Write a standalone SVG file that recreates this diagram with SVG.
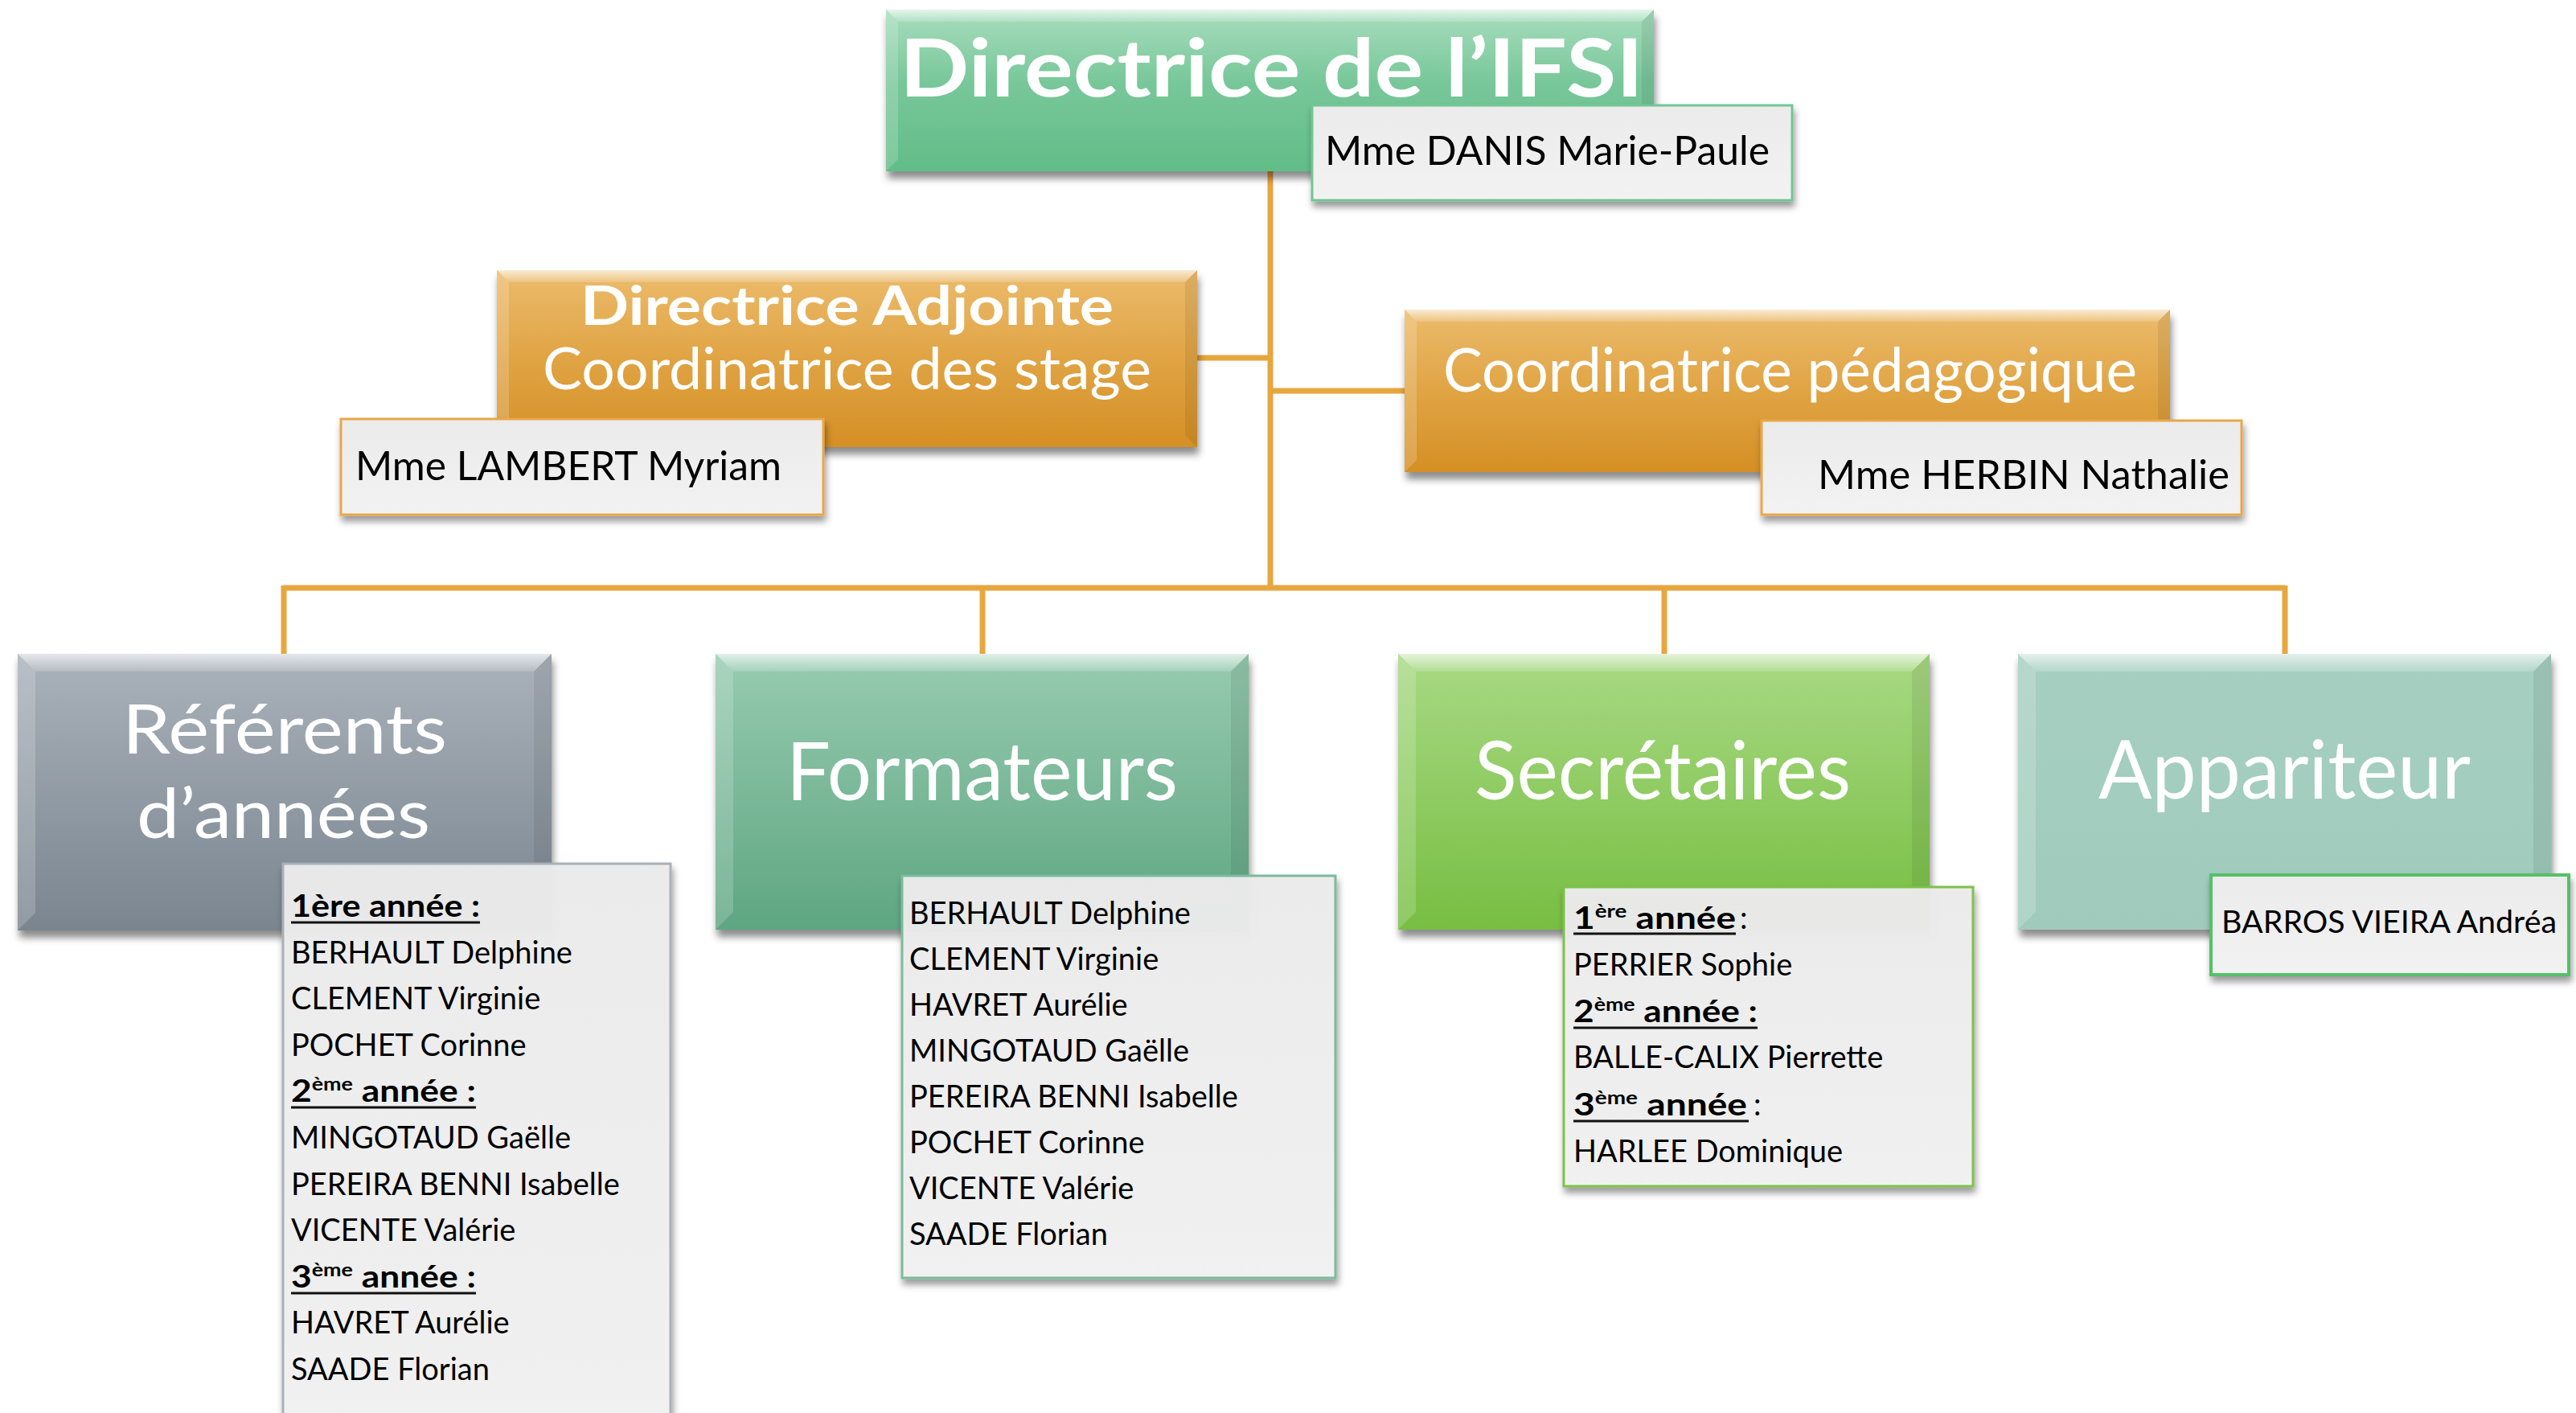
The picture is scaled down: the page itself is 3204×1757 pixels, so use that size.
<svg xmlns="http://www.w3.org/2000/svg" width="3204" height="1757" viewBox="0 0 3204 1757">
<defs>
<linearGradient id="gGreen" x1="0" y1="0" x2="0" y2="1"><stop offset="0" stop-color="#a8ddbd"/><stop offset="0.45" stop-color="#78c79a"/><stop offset="1" stop-color="#62bd88"/></linearGradient>
<linearGradient id="gOrange" x1="0" y1="0" x2="0" y2="1"><stop offset="0" stop-color="#ecbb6c"/><stop offset="0.5" stop-color="#e0a444"/><stop offset="1" stop-color="#d58f25"/></linearGradient>
<linearGradient id="gGray" x1="0" y1="0" x2="0" y2="1"><stop offset="0" stop-color="#aab2ba"/><stop offset="1" stop-color="#7a8590"/></linearGradient>
<linearGradient id="gTeal" x1="0" y1="0" x2="0" y2="1"><stop offset="0" stop-color="#97cbb0"/><stop offset="1" stop-color="#5ea682"/></linearGradient>
<linearGradient id="gLime" x1="0" y1="0" x2="0" y2="1"><stop offset="0" stop-color="#a8d984"/><stop offset="1" stop-color="#77be42"/></linearGradient>
<linearGradient id="gMint" x1="0" y1="0" x2="0" y2="1"><stop offset="0" stop-color="#a6cfc1"/><stop offset="1" stop-color="#a0cbbc"/></linearGradient>
<linearGradient id="gSub" x1="0" y1="0" x2="0" y2="1"><stop offset="0" stop-color="#ebebeb"/><stop offset="1" stop-color="#f2f2f2"/></linearGradient>
<linearGradient id="gHi" x1="0" y1="0" x2="0" y2="1"><stop offset="0" stop-color="#ffffff" stop-opacity="0.7"/><stop offset="1" stop-color="#ffffff" stop-opacity="0.15"/></linearGradient>
<filter id="sh" x="-5%" y="-5%" width="112%" height="125%"><feDropShadow dx="2" dy="9" stdDeviation="5" flood-color="#000" flood-opacity="0.45"/></filter>
<filter id="shs" x="-5%" y="-5%" width="112%" height="130%"><feDropShadow dx="2" dy="7" stdDeviation="4" flood-color="#000" flood-opacity="0.4"/></filter>
</defs>
<style>
.t{font-family:Lato,"Open Sans","Liberation Sans",sans-serif;}
.w{fill:#ffffff;}
.b{fill:#000000;}
.bold{font-weight:bold;}
.n{font-size:38px;}
.h{font-size:38px;font-weight:bold;}
.sup{font-size:23px;}
.conn{stroke:#e8a63f;stroke-width:7;fill:none;}
.hi{fill:url(#gHi);}
.lt{fill:#ffffff;fill-opacity:0.18;}
.dk{fill:#000000;fill-opacity:0.07;}
.ul{stroke:#111;stroke-width:3;}
</style>

<g id="connectors">
<path class="conn" d="M1580 150 V731"/>
<path class="conn" d="M1480 445 H1580"/>
<path class="conn" d="M1580 486 H1760"/>
<path class="conn" d="M353 731 H2842"/>
<path class="conn" d="M353 728 V830"/>
<path class="conn" d="M1222 731 V830"/>
<path class="conn" d="M2070 731 V830"/>
<path class="conn" d="M2842 728 V830"/>
</g>

<g id="node-directrice">
<rect x="1102" y="12" width="955" height="201" fill="url(#gGreen)" filter="url(#sh)"/>
<polygon class="hi" points="1102,12 2057,12 2042,27 1117,27"/>
<polygon class="lt" points="1102,12 1117,27 1117,198 1102,213"/>
<polygon class="dk" points="2057,12 2057,213 2042,198 2042,27"/>
<text class="t w bold" x="1119" y="120" font-size="100" textLength="925" lengthAdjust="spacingAndGlyphs">Directrice de l’IFSI</text>
<rect x="1632" y="131" width="597" height="118" fill="url(#gSub)" stroke="#72c696" stroke-width="3" filter="url(#shs)"/>
<text class="t b" x="1648" y="205" font-size="50" textLength="553" lengthAdjust="spacingAndGlyphs">Mme DANIS Marie-Paule</text>
</g>

<g id="node-adjointe">
<rect x="618" y="336" width="871" height="220" fill="url(#gOrange)" filter="url(#sh)"/>
<polygon class="hi" points="618,336 1489,336 1474,351 633,351"/>
<polygon class="lt" points="618,336 633,351 633,541 618,556"/>
<polygon class="dk" points="1489,336 1489,556 1474,541 1474,351"/>
<text class="t w bold" x="722" y="404" font-size="66" textLength="663" lengthAdjust="spacingAndGlyphs">Directrice Adjointe</text>
<text class="t w" x="675" y="484" font-size="72" textLength="757" lengthAdjust="spacingAndGlyphs">Coordinatrice des stage</text>
<rect x="424" y="521" width="600" height="119" fill="url(#gSub)" stroke="#e9a74a" stroke-width="3" filter="url(#shs)"/>
<text class="t b" x="442" y="597" font-size="50" textLength="530" lengthAdjust="spacingAndGlyphs">Mme LAMBERT  Myriam</text>
</g>

<g id="node-coordinatrice">
<rect x="1747" y="385" width="952" height="202" fill="url(#gOrange)" filter="url(#sh)"/>
<polygon class="hi" points="1747,385 2699,385 2684,400 1762,400"/>
<polygon class="lt" points="1747,385 1762,400 1762,572 1747,587"/>
<polygon class="dk" points="2699,385 2699,587 2684,572 2684,400"/>
<text class="t w" x="1795" y="487" font-size="76" textLength="863" lengthAdjust="spacingAndGlyphs">Coordinatrice pédagogique</text>
<rect x="2191" y="523" width="597" height="117" fill="url(#gSub)" stroke="#e9a74a" stroke-width="3" filter="url(#shs)"/>
<text class="t b" x="2261" y="608" font-size="50" textLength="512" lengthAdjust="spacingAndGlyphs">Mme HERBIN Nathalie</text>
</g>

<g id="node-referents">
<rect x="22" y="813" width="664" height="344" fill="url(#gGray)" filter="url(#sh)"/>
<polygon class="hi" points="22,813 686,813 664,835 44,835"/>
<polygon class="lt" points="22,813 44,835 44,1135 22,1157"/>
<polygon class="dk" points="686,813 686,1157 664,1135 664,835"/>
<text class="t w" x="152" y="937" font-size="86" textLength="404" lengthAdjust="spacingAndGlyphs">Référents</text>
<text class="t w" x="170" y="1042" font-size="86" textLength="365" lengthAdjust="spacingAndGlyphs">d’années</text>
<rect x="352" y="1074" width="482" height="700" fill="url(#gSub)" fill-opacity="0.97" stroke="#a9b0b7" stroke-width="3" filter="url(#shs)"/>
<text class="t h" x="362" y="1140" textLength="235" lengthAdjust="spacingAndGlyphs">1ère année :</text>
<line class="ul" x1="362" y1="1147" x2="597" y2="1147"/>
<text class="t n" x="362" y="1198">BERHAULT Delphine</text>
<text class="t n" x="362" y="1255">CLEMENT Virginie</text>
<text class="t n" x="362" y="1313">POCHET Corinne</text>
<text class="t h" x="362" y="1370" textLength="230" lengthAdjust="spacingAndGlyphs">2<tspan class="sup" dy="-14">ème</tspan><tspan dy="14"> année :</tspan></text>
<line class="ul" x1="362" y1="1377" x2="592" y2="1377"/>
<text class="t n" x="362" y="1428">MINGOTAUD Gaëlle</text>
<text class="t n" x="362" y="1486">PEREIRA BENNI Isabelle</text>
<text class="t n" x="362" y="1543">VICENTE Valérie</text>
<text class="t h" x="362" y="1601" textLength="230" lengthAdjust="spacingAndGlyphs">3<tspan class="sup" dy="-14">ème</tspan><tspan dy="14"> année :</tspan></text>
<line class="ul" x1="362" y1="1608" x2="592" y2="1608"/>
<text class="t n" x="362" y="1658">HAVRET Aurélie</text>
<text class="t n" x="362" y="1716">SAADE Florian</text>
</g>

<g id="node-formateurs">
<rect x="890" y="813" width="663" height="343" fill="url(#gTeal)" filter="url(#sh)"/>
<polygon class="hi" points="890,813 1553,813 1531,835 912,835"/>
<polygon class="lt" points="890,813 912,835 912,1134 890,1156"/>
<polygon class="dk" points="1553,813 1553,1156 1531,1134 1531,835"/>
<text class="t w" x="978" y="995" font-size="100" textLength="487" lengthAdjust="spacingAndGlyphs">Formateurs</text>
<rect x="1122" y="1089" width="539" height="500" fill="url(#gSub)" fill-opacity="0.97" stroke="#7cbb9c" stroke-width="3" filter="url(#shs)"/>
<text class="t n" x="1131" y="1149">BERHAULT Delphine</text>
<text class="t n" x="1131" y="1206">CLEMENT Virginie</text>
<text class="t n" x="1131" y="1263">HAVRET Aurélie</text>
<text class="t n" x="1131" y="1320">MINGOTAUD Gaëlle</text>
<text class="t n" x="1131" y="1377">PEREIRA BENNI Isabelle</text>
<text class="t n" x="1131" y="1434">POCHET Corinne</text>
<text class="t n" x="1131" y="1491">VICENTE Valérie</text>
<text class="t n" x="1131" y="1548">SAADE Florian</text>
</g>

<g id="node-secretaires">
<rect x="1739" y="813" width="661" height="343" fill="url(#gLime)" filter="url(#sh)"/>
<polygon class="hi" points="1739,813 2400,813 2378,835 1761,835"/>
<polygon class="lt" points="1739,813 1761,835 1761,1134 1739,1156"/>
<polygon class="dk" points="2400,813 2400,1156 2378,1134 2378,835"/>
<text class="t w" x="1834" y="994" font-size="100" textLength="468" lengthAdjust="spacingAndGlyphs">Secrétaires</text>
<rect x="1945" y="1103" width="509" height="372" fill="url(#gSub)" fill-opacity="0.97" stroke="#7dc24a" stroke-width="3" filter="url(#shs)"/>
<text class="t h" x="1957" y="1155" textLength="202" lengthAdjust="spacingAndGlyphs">1<tspan class="sup" dy="-14">ère</tspan><tspan dy="14"> année</tspan></text>
<text class="t n" x="2164" y="1155">:</text>
<line class="ul" x1="1957" y1="1161" x2="2159" y2="1161"/>
<text class="t n" x="1957" y="1213">PERRIER Sophie</text>
<text class="t h" x="1957" y="1271" textLength="229" lengthAdjust="spacingAndGlyphs">2<tspan class="sup" dy="-14">ème</tspan><tspan dy="14"> année :</tspan></text>
<line class="ul" x1="1957" y1="1278" x2="2186" y2="1278"/>
<text class="t n" x="1957" y="1328">BALLE-CALIX Pierrette</text>
<text class="t h" x="1957" y="1387" textLength="216" lengthAdjust="spacingAndGlyphs">3<tspan class="sup" dy="-14">ème</tspan><tspan dy="14"> année</tspan></text>
<text class="t n" x="2181" y="1387">:</text>
<line class="ul" x1="1957" y1="1394" x2="2175" y2="1394"/>
<text class="t n" x="1957" y="1445">HARLEE Dominique</text>
</g>

<g id="node-appariteur">
<rect x="2510" y="813" width="663" height="343" fill="url(#gMint)" filter="url(#sh)"/>
<polygon class="hi" points="2510,813 3173,813 3151,835 2532,835"/>
<polygon class="lt" points="2510,813 2532,835 2532,1134 2510,1156"/>
<polygon class="dk" points="3173,813 3173,1156 3151,1134 3151,835"/>
<text class="t w" x="2610" y="993" font-size="100" textLength="463" lengthAdjust="spacingAndGlyphs">Appariteur</text>
<rect x="2750" y="1088" width="445" height="124" fill="url(#gSub)" stroke="#52c168" stroke-width="4" filter="url(#shs)"/>
<text class="t n" x="2763" y="1160" font-size="40" textLength="417" lengthAdjust="spacingAndGlyphs">BARROS VIEIRA Andréa</text>
</g>
</svg>
